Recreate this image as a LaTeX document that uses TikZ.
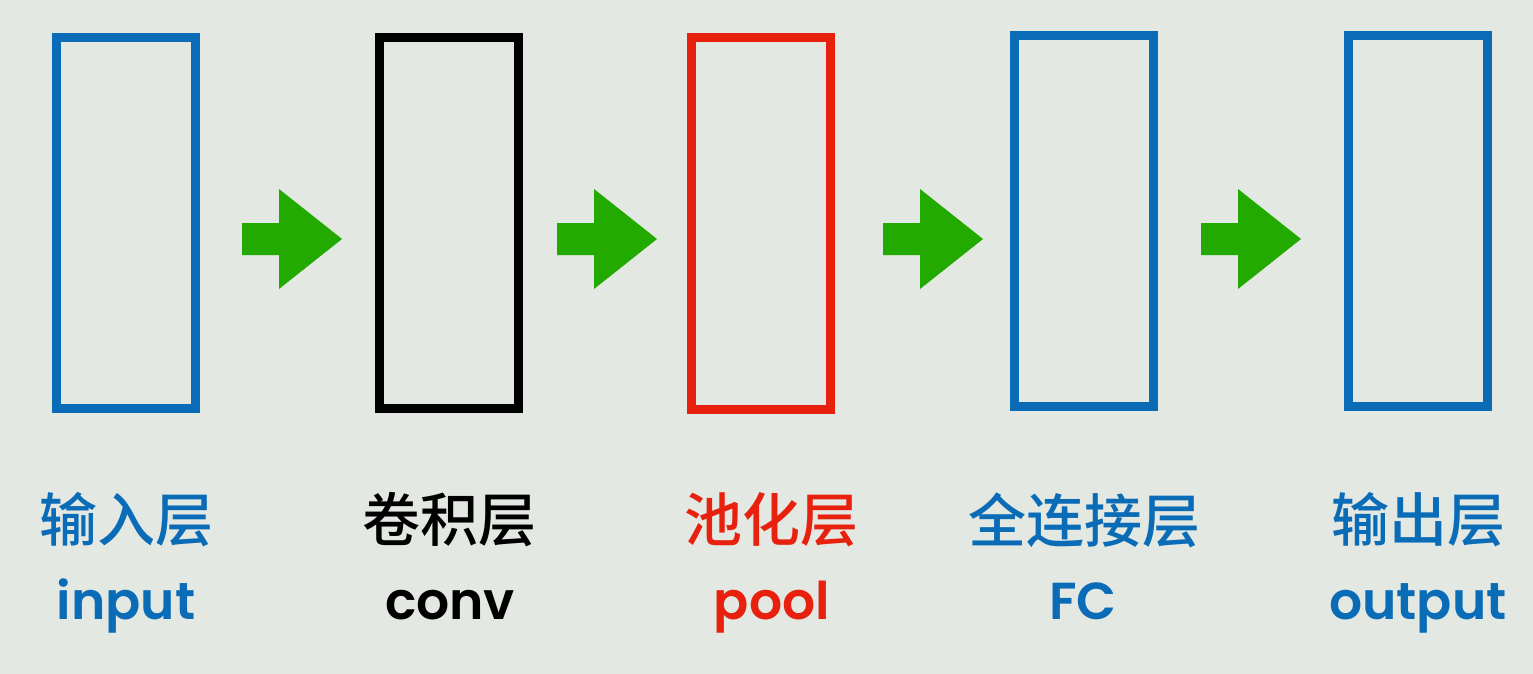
\documentclass[tikz,border=0pt]{standalone}
\usepackage{fontspec}
\IfFontExistsTF{Noto Sans CJK SC Medium}
  {\newfontfamily\cjk{Noto Sans CJK SC Medium}}
  {\newfontfamily\cjk{Noto Sans CJK SC}[FakeBold=1.5]}
\IfFontExistsTF{Poppins SemiBold}
  {\newfontfamily\en{Poppins SemiBold}}
  {\newfontfamily\en{Poppins}[UprightFont=*-Bold]}
\definecolor{bgc}{HTML}{E3E8E2}
\definecolor{lblue}{HTML}{0A6CB6}
\definecolor{lred}{HTML}{E8210F}
\definecolor{lgreen}{HTML}{22AA00}
\begin{document}
\begin{tikzpicture}[x=1pt,y=-1pt,
  layerbox/.style={draw, line width=9pt, minimum width=139pt, minimum height=371pt, inner sep=0pt, outer sep=0pt},
  cnlabel/.style={font=\cjk\fontsize{58}{62}\selectfont, inner sep=0pt},
  enlabel/.style={font=\en\fontsize{52}{60}\selectfont, inner sep=0pt, anchor=base},
  blockarrow/.style={fill=lgreen}]
\useasboundingbox (0,0) rectangle (1533,674);
\fill[bgc] (0,0) rectangle (1533,674);
% layer boxes
\node[layerbox, lblue] (b1) at (126,223) {};
\node[layerbox, black] (b2) at (449,223) {};
\node[layerbox, lred] (b3) at (760.5,223.5) {};
\node[layerbox, lblue] (b4) at (1084,221) {};
\node[layerbox, lblue] (b5) at (1418,221) {};
% arrows
\coordinate (a1) at (242,239);
\coordinate (a2) at (557,239);
\coordinate (a3) at (883,239);
\coordinate (a4) at (1201,239);
\foreach \a in {a1,a2,a3,a4}
  \fill[blockarrow] (\a) ++(0,-16) -- ++(37,0) -- ++(0,-34) -- ++(63,50) -- ++(-63,50) -- ++(0,-34) -- ++(-37,0) -- cycle;
% labels
\node[cnlabel, text=lblue] (c1) at (126,520) {输入层};
\node[cnlabel, text=black] (c2) at (449,520) {卷积层};
\node[cnlabel, text=lred] (c3) at (771,520) {池化层};
\node[cnlabel, text=lblue] (c4) at (1084,520) {全连接层};
\node[cnlabel, text=lblue] (c5) at (1418,520) {输出层};
\node[enlabel, text=lblue] (e1) at (126,619) {input};
\node[enlabel, text=black] (e2) at (450,619) {conv};
\node[enlabel, text=lred] (e3) at (772,619) {pool};
\node[enlabel, text=lblue] (e4) at (1083,619) {FC};
\node[enlabel, text=lblue] (e5) at (1418,619) {output};
\end{tikzpicture}
\end{document}
